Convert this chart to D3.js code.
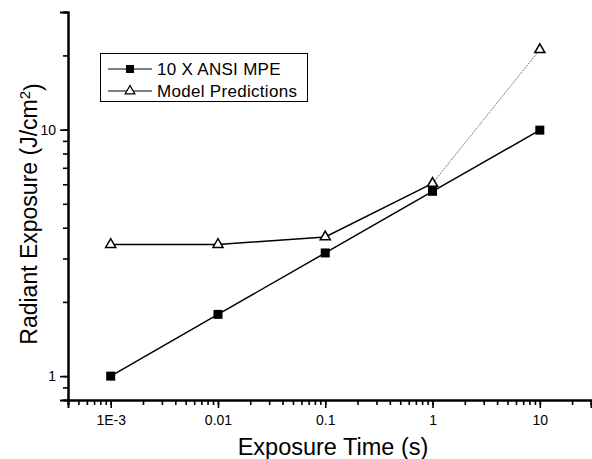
<!DOCTYPE html>
<html>
<head>
<meta charset="utf-8">
<script src="https://cdnjs.cloudflare.com/ajax/libs/d3/7.8.5/d3.min.js"></script>
<style>
  body { margin: 0; background: #fff; }
  text { font-family: "Liberation Sans", Arial, sans-serif; fill: #000; }
</style>
</head>
<body>
<div id="chart"></div>
<script>
// exposure times (s)
var times = [0.001, 0.01, 0.1, 1, 10];
// 10 x ANSI MPE (J/cm2)
var ansi = [1.0, 1.78, 3.16, 5.62, 9.95];
// model predictions (J/cm2)
var model = [3.42, 3.42, 3.67, 6.05, 21.1];
var xTickVals = [0.001, 0.01, 0.1, 1, 10];
var xTickLabels = ["1E-3", "0.01", "0.1", "1", "10"];
var yTickVals = [1, 10];
var yTickLabels = ["1", "10"];

var width = 592, height = 459;
var svg = d3.select("#chart").append("svg")
    .attr("width", width)
    .attr("height", height);

var x = d3.scaleLog().domain([0.0004, 30]).range([68, 591]);
var y = d3.scaleLog().domain([0.8, 30]).range([400, 12]);

// minor ticks, 2..9 of each decade
function minors(dom) {
    var out = [];
    for (var e = -4; e <= 2; e++) {
        for (var m = 1; m <= 9; m++) {
            var v = m * Math.pow(10, e);
            if (v >= dom[0] * 0.999 && v <= dom[1] * 1.001) out.push(v);
        }
    }
    return out;
}

var xMinor = svg.append("g")
    .attr("transform", "translate(0,400)")
    .call(d3.axisBottom(x).tickValues(minors(x.domain())).tickSize(5).tickFormat(""));
var xMajor = svg.append("g")
    .attr("transform", "translate(0,400)")
    .call(d3.axisBottom(x).tickValues(xTickVals).tickSize(8).tickPadding(7)
        .tickFormat(function(d, i) { return xTickLabels[i]; }));

var yMinor = svg.append("g")
    .attr("transform", "translate(68,0)")
    .call(d3.axisLeft(y).tickValues(minors(y.domain())).tickSize(5).tickFormat(""));
var yMajor = svg.append("g")
    .attr("transform", "translate(68,0)")
    .call(d3.axisLeft(y).tickValues(yTickVals).tickSize(8).tickPadding(4)
        .tickFormat(function(d, i) { return yTickLabels[i]; }));

[xMinor, xMajor, yMinor, yMajor].forEach(function(g) {
    g.select(".domain").attr("stroke", "#000").attr("stroke-width", 2);
    g.selectAll(".tick line").attr("stroke", "#000").attr("stroke-width", 1.6);
    g.selectAll(".tick text").style("font-size", "14px").attr("fill", "#111");
});
xMajor.selectAll(".tick text").attr("dy", "0.71em");

// axis titles
svg.append("text")
    .attr("x", 333).attr("y", 455)
    .attr("text-anchor", "middle")
    .style("font-size", "23.5px")
    .text("Exposure Time (s)");

var yt = svg.append("text")
    .attr("transform", "translate(37,214) rotate(-90)")
    .attr("text-anchor", "middle")
    .style("font-size", "23px");
yt.append("tspan").text("Radiant Exposure (J/cm");
yt.append("tspan").attr("dy", "-0.45em").style("font-size", "15px").text("2");
yt.append("tspan").attr("dy", "0.45em").text(")");

var line = d3.line()
    .x(function(d) { return x(d[0]); })
    .y(function(d) { return y(d[1]); });

var ansiPts = times.map(function(t, i) { return [t, ansi[i]]; });
var modelPts = times.map(function(t, i) { return [t, model[i]]; });

// model line: solid up to 1 s, thin dotted to 10 s
svg.append("path")
    .datum(modelPts.slice(0, 4))
    .attr("d", line)
    .attr("fill", "none").attr("stroke", "#000").attr("stroke-width", 1.5);
svg.append("path")
    .datum(modelPts.slice(3))
    .attr("d", line)
    .attr("fill", "none").attr("stroke", "#777").attr("stroke-width", 1)
    .attr("stroke-dasharray", "2,1");

svg.append("path")
    .datum(ansiPts)
    .attr("d", line)
    .attr("fill", "none").attr("stroke", "#000").attr("stroke-width", 1.5);

var tri = d3.symbol().type(d3.symbolTriangle).size(44);

svg.selectAll(".sq")
    .data(ansiPts)
    .enter().append("rect")
    .attr("class", "sq")
    .attr("x", function(d) { return x(d[0]) - 4.5; })
    .attr("y", function(d) { return y(d[1]) - 4.5; })
    .attr("width", 9).attr("height", 9)
    .attr("fill", "#000");

svg.selectAll(".tri")
    .data(modelPts)
    .enter().append("path")
    .attr("class", "tri")
    .attr("transform", function(d) { return "translate(" + x(d[0]) + "," + y(d[1]) + ")"; })
    .attr("d", tri)
    .attr("fill", "#fff").attr("stroke", "#000").attr("stroke-width", 1.5);

// legend
var lg = svg.append("g");
lg.append("rect")
    .attr("x", 100.5).attr("y", 53.5).attr("width", 207).attr("height", 48)
    .attr("fill", "#fff").attr("stroke", "#000").attr("stroke-width", 1);
var legendItems = ["10 X ANSI MPE", "Model Predictions"];
legendItems.forEach(function(name, i) {
    var yy = 69 + i * 22;
    lg.append("line").attr("x1", 108).attr("x2", 152).attr("y1", yy).attr("y2", yy)
        .attr("stroke", "#000").attr("stroke-width", 1.2);
    if (i === 0) {
        lg.append("rect").attr("x", 126).attr("y", yy - 4).attr("width", 8).attr("height", 8)
            .attr("fill", "#000");
    } else {
        lg.append("path").attr("transform", "translate(130," + yy + ")")
            .attr("d", d3.symbol().type(d3.symbolTriangle).size(40))
            .attr("fill", "#fff").attr("stroke", "#000").attr("stroke-width", 1.3);
    }
    lg.append("text").attr("x", 157).attr("y", yy + 6)
        .style("font-size", "17px").style("letter-spacing", "0.3px").text(name);
});
</script>
</body>
</html>
